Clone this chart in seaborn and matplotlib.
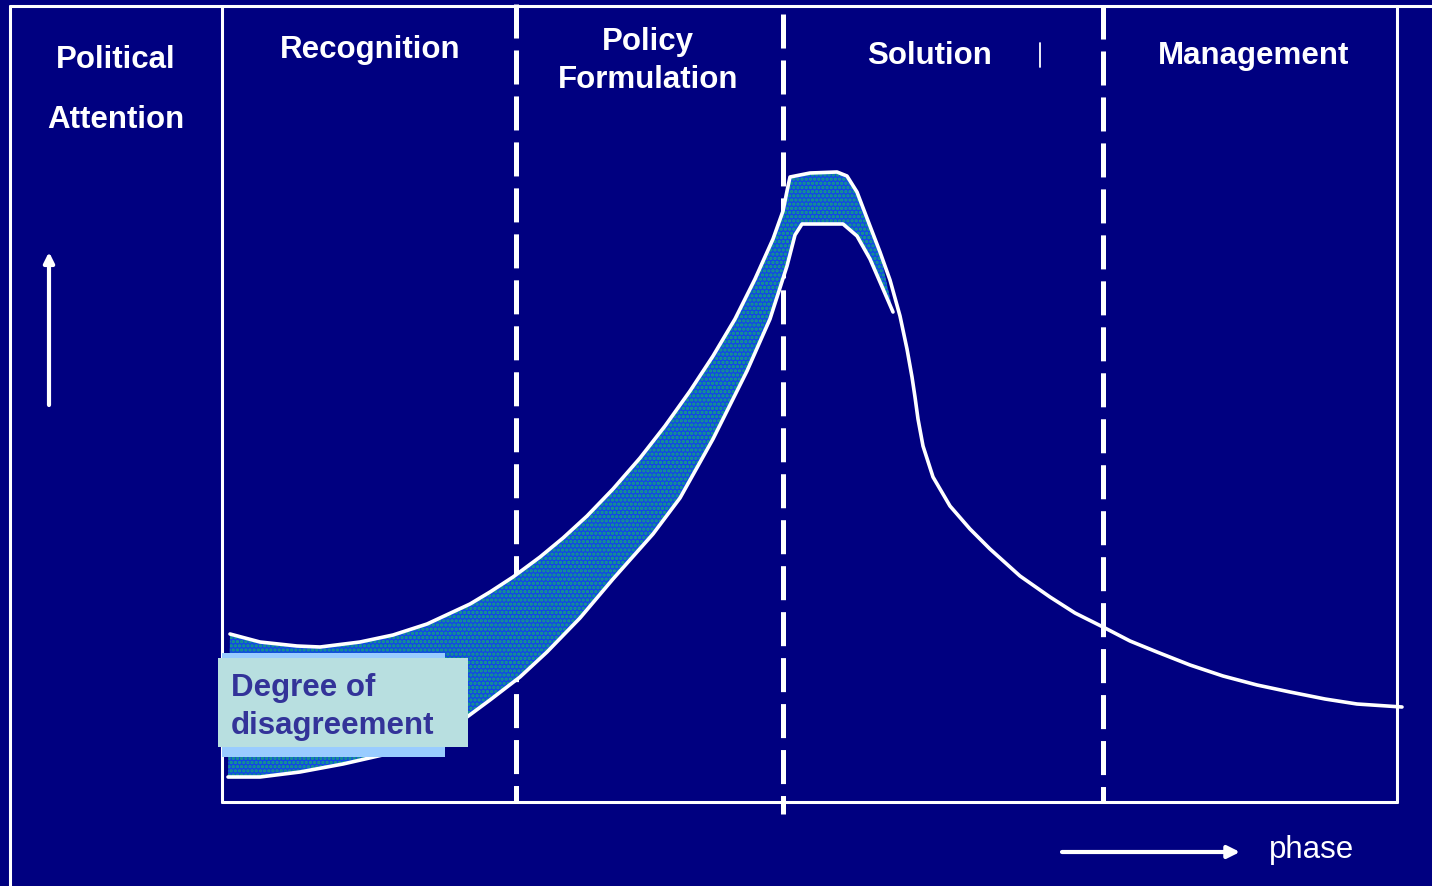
import matplotlib
matplotlib.use("Agg")
import matplotlib.pyplot as plt
import seaborn as sns
from matplotlib.patches import Rectangle

# ---- data (canvas units: x to the right, y downward) ----
phase_names = ["Recognition", "Policy\nFormulation", "Solution", "Management"]
phase_centers = [370, 648, 930, 1254]
phase_label_y = [50, 61, 56, 56]
phase_bounds = [222, 516, 783, 1103, 1397]

# political attention curve: upper edge of the band, peak, and decline
upper_x = [230, 260, 297, 320, 360, 393, 427, 470, 490, 513, 540, 563, 587, 613,
           640, 665, 690, 713, 735, 755, 773, 783, 787, 790, 810, 837, 847, 857,
           870, 880, 890, 900, 907, 912, 915, 918, 923, 933, 950, 970, 990, 1020,
           1050, 1075, 1103, 1130, 1157, 1190, 1223, 1257, 1290, 1325, 1357, 1402]
upper_y = [635, 643, 647, 648, 643, 636, 625, 605, 593, 578, 558, 539, 517, 490,
           459, 427, 392, 357, 320, 280, 240, 212, 192, 178, 174, 173, 177, 193,
           227, 253, 281, 317, 350, 378, 398, 420, 447, 478, 507, 530, 550, 577,
           598, 614, 628, 642, 653, 666, 677, 686, 693, 700, 705, 708]

# lower edge of the disagreement band
lower_x = [228, 260, 300, 343, 387, 420, 467, 490, 520, 547, 580, 613, 653, 680,
           713, 747, 770, 787, 795, 802, 843, 857, 870, 880, 893]
lower_y = [778, 778, 773, 765, 755, 742, 718, 701, 678, 653, 619, 580, 535, 499,
           440, 372, 320, 267, 236, 225, 225, 237, 260, 283, 313]

band_label = "Degree of\ndisagreement"
axis_label_y = "Political\n\nAttention"
axis_label_x = "phase"

NAVY = "#000080"
WHITE = "white"

sns.set_style("white")
plt.rcParams["font.family"] = ["Liberation Sans", "DejaVu Sans"]
plt.rcParams["lines.scale_dashes"] = False
plt.rcParams["hatch.linewidth"] = 1.6

fig = plt.figure(figsize=(14.32, 8.87), dpi=100)
fig.patch.set_facecolor(NAVY)
ax = fig.add_axes([0, 0, 1, 1])
ax.set_facecolor(NAVY)

# frame
lw_frame = 2.2
ax.plot([10, 1432], [7, 7], color=WHITE, lw=lw_frame)
ax.plot([10, 10], [7, 887], color=WHITE, lw=lw_frame)
ax.plot([phase_bounds[0], phase_bounds[0]], [7, 803], color=WHITE, lw=lw_frame)
ax.plot([phase_bounds[-1], phase_bounds[-1]], [7, 803], color=WHITE, lw=lw_frame)
ax.plot([phase_bounds[0], phase_bounds[-1]], [803, 803], color=WHITE, lw=lw_frame)

# dashed phase separators
dash_spans = [(5, 803), (15, 815), (6, 803)]
for xb, (y0, y1) in zip(phase_bounds[1:-1], dash_spans):
    ax.plot([xb, xb], [y0, y1], color=WHITE, lw=3.6, dashes=(24.5, 8.6),
            dash_capstyle="butt")

# small stray mark next to "Solution"
ax.plot([1040, 1040], [44, 68], color=WHITE, lw=1.3)

# disagreement band
band_x = [x for x in upper_x if x <= 880] + lower_x[::-1]
band_y = [y for x, y in zip(upper_x, upper_y) if x <= 880] + lower_y[::-1]
ax.fill(band_x, band_y, facecolor="#1248e6", edgecolor="none", zorder=2)
ax.fill(band_x, band_y, facecolor="none", edgecolor="#14a878", hatch="....",
        linewidth=0, zorder=2)

# curves
sns.lineplot(x=upper_x, y=upper_y, sort=False, estimator=None, ax=ax,
             color=WHITE, lw=2.6, zorder=3)
sns.lineplot(x=lower_x, y=lower_y, sort=False, estimator=None, ax=ax,
             color=WHITE, lw=2.6, zorder=3)
ax.set_xlim(0, 1432)
ax.set_ylim(887, 0)
ax.axis("off")

# phase titles
for name, cx, cy in zip(phase_names, phase_centers, phase_label_y):
    ax.text(cx, cy, name, color=WHITE, fontsize=22.5, fontweight="bold",
            ha="center", va="center", linespacing=1.35)

ax.text(116, 90, axis_label_y, color=WHITE, fontsize=22.5, fontweight="bold",
        ha="center", va="center", linespacing=1.0)

# axis arrows
ax.annotate("", xy=(49, 253), xytext=(49, 406),
            arrowprops=dict(arrowstyle="-|>", color=WHITE, lw=3,
                            mutation_scale=15, shrinkA=0, shrinkB=0))
ax.annotate("", xy=(1240, 853), xytext=(1062, 853),
            arrowprops=dict(arrowstyle="-|>", color=WHITE, lw=3,
                            mutation_scale=18, shrinkA=0, shrinkB=0))
ax.text(1269, 850, axis_label_x, color=WHITE, fontsize=22.5,
        ha="left", va="center")

# band label box
ax.add_patch(Rectangle((222, 654), 223, 104, facecolor="#99ccff",
                       edgecolor="none", zorder=4))
ax.add_patch(Rectangle((218, 659), 250, 89, facecolor="#b8dfe0",
                       edgecolor="none", zorder=5))
ax.text(231, 707, band_label, color="#333399", fontsize=22.5,
        fontweight="bold", ha="left", va="center", linespacing=1.32, zorder=6)

fig.savefig("out.png", dpi=100, facecolor=NAVY)
